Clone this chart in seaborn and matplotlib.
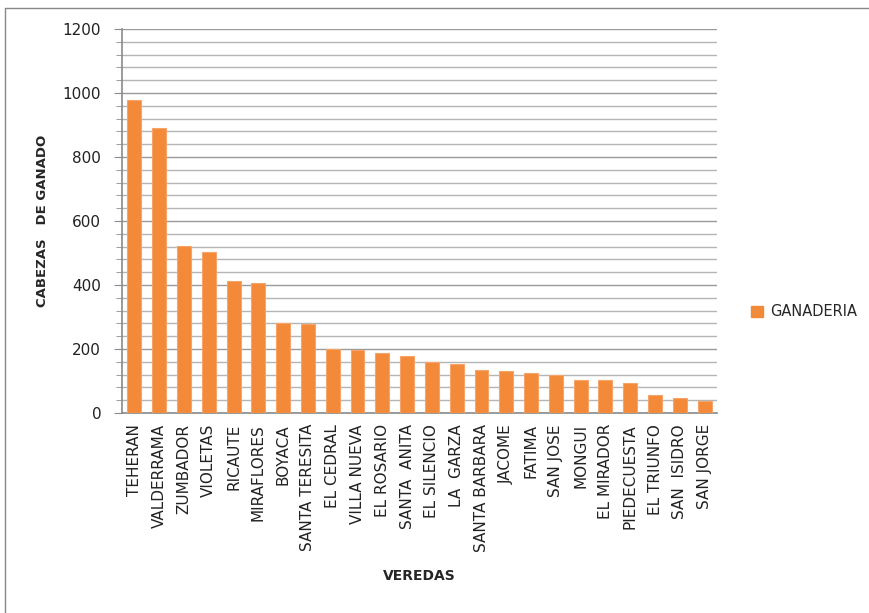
import matplotlib
matplotlib.use("Agg")
import matplotlib.pyplot as plt
import seaborn as sns
import pandas as pd
from matplotlib.patches import Patch
from matplotlib.lines import Line2D
from matplotlib.ticker import MultipleLocator

veredas = ["TEHERAN", "VALDERRAMA", "ZUMBADOR", "VIOLETAS", "RICAUTE", "MIRAFLORES",
           "BOYACA", "SANTA TERESITA", "EL CEDRAL", "VILLA NUEVA", "EL ROSARIO",
           "SANTA  ANITA", "EL SILENCIO", "LA  GARZA", "SANTA BARBARA", "JACOME",
           "FATIMA", "SAN JOSE", "MONGUI", "EL MIRADOR", "PIEDECUESTA", "EL TRIUNFO",
           "SAN  ISIDRO", "SAN JORGE"]
ganaderia = [978, 890, 521, 503, 412, 406, 282, 279, 199, 196, 186, 177, 160, 154,
             135, 131, 126, 119, 103, 102, 94, 56, 47, 39]

df = pd.DataFrame({"vereda": veredas, "ganaderia": ganaderia})

sns.set_style("white")
plt.rcParams["font.family"] = ["DejaVu Sans"]

fig = plt.figure(figsize=(8.69, 6.13), dpi=100)
ax = fig.add_axes([122/869, 1-413/613, (717-122)/869, (413-29)/613])

color = "#F28A3A"
sns.barplot(data=df, x="vereda", y="ganaderia", color=color, width=0.56,
            edgecolor="#F6A46A", linewidth=0.8, ax=ax, saturation=1, zorder=3)

ax.set_ylim(0, 1200)
ax.set_xlim(-0.5, len(veredas) - 0.5)
ax.yaxis.set_major_locator(MultipleLocator(200))
ax.yaxis.set_minor_locator(MultipleLocator(40))
ax.grid(True, which="major", axis="y", color="#9a9a9a", linewidth=1.0, zorder=0)
ax.grid(True, which="minor", axis="y", color="#b5b5b5", linewidth=1.0, zorder=0)
ax.set_axisbelow(True)

for s in ["top", "right"]:
    ax.spines[s].set_visible(False)
for s in ["left", "bottom"]:
    ax.spines[s].set_color("#8a8a8a")
    ax.spines[s].set_linewidth(1.2)

ax.tick_params(axis="y", which="major", length=6, color="#8a8a8a", labelsize=11,
               labelcolor="#222222", pad=9, left=True)
ax.tick_params(axis="y", which="minor", length=4, color="#8a8a8a", left=True)
ax.tick_params(axis="x", length=0, labelsize=11, labelcolor="#222222", pad=8)
plt.setp(ax.get_xticklabels(), rotation=90)

ax.set_xlabel("VEREDAS", fontsize=10, fontweight="bold", labelpad=12)
ax.set_ylabel("CABEZAS   DE GANADO", fontsize=9.5, fontweight="bold", labelpad=10)

handles = [Patch(facecolor=color, edgecolor=color, label="GANADERIA")]
fig.legend(handles=handles, loc="center left", bbox_to_anchor=(738/869, 1-312/613),
           frameon=False, prop={"size": 10.5},
           handlelength=0.8, handleheight=0.8, handletextpad=0.5)

# figure frame
fig.add_artist(Line2D([5/869, 1], [1-8/613, 1-8/613], color="#888888", linewidth=1,
                      transform=fig.transFigure))
fig.add_artist(Line2D([5/869, 5/869], [0, 1-8/613], color="#888888", linewidth=1,
                      transform=fig.transFigure))

fig.savefig("out.png", dpi=100, facecolor="white")
